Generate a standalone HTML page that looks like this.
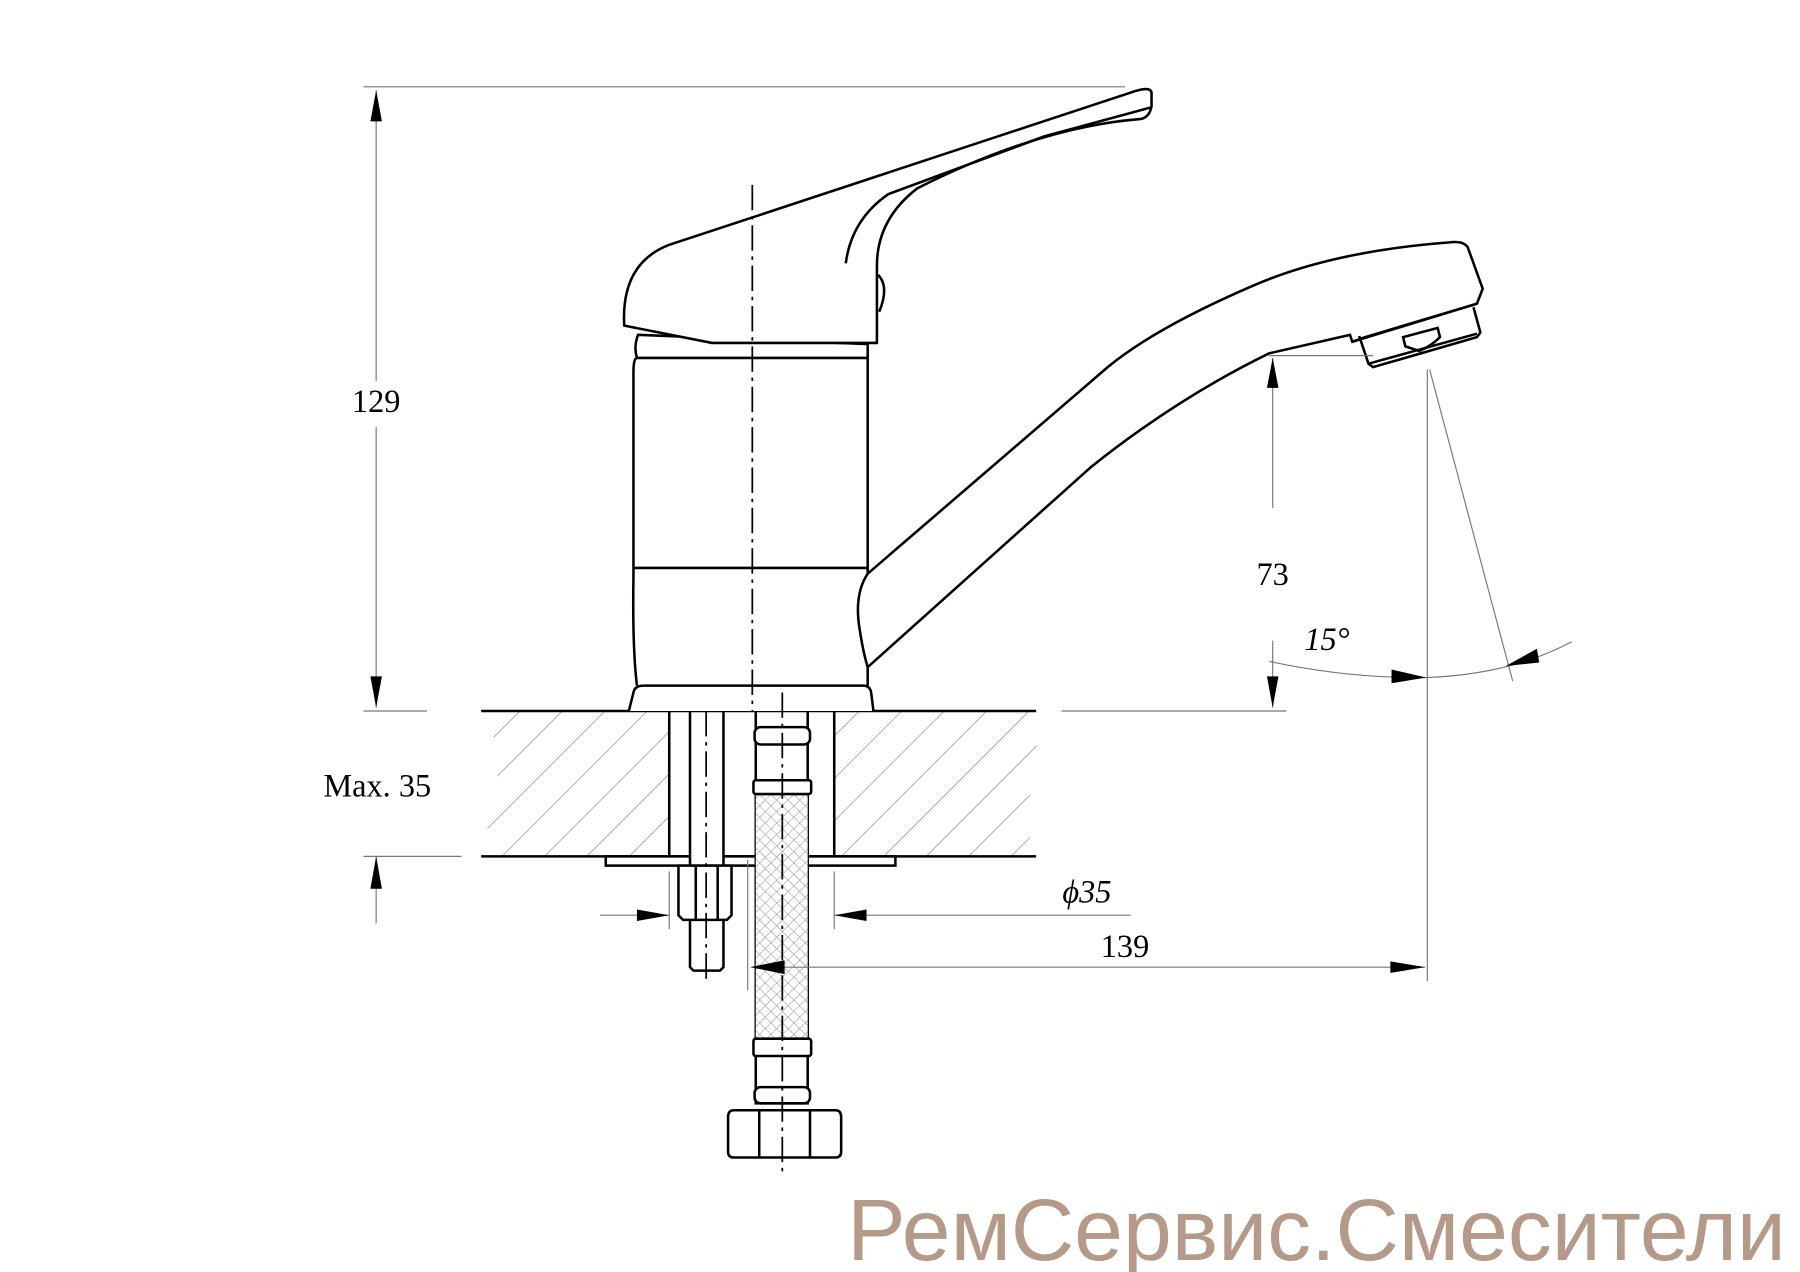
<!DOCTYPE html>
<html><head><meta charset="utf-8"><style>
html,body{margin:0;padding:0;background:#fff;}
svg{display:block;}
</style></head><body>
<svg width="1800" height="1272" viewBox="0 0 1560 1102" xmlns="http://www.w3.org/2000/svg">
<defs>
<pattern id="hatch" width="26" height="26" patternUnits="userSpaceOnUse" patternTransform="rotate(45)">
<line x1="0" y1="0" x2="0" y2="26" stroke="#777" stroke-width="1"/>
</pattern>
<pattern id="mesh" width="7" height="7" patternUnits="userSpaceOnUse" patternTransform="rotate(45)">
<rect width="7" height="7" fill="#fff"/>
<line x1="0" y1="0" x2="0" y2="7" stroke="#888" stroke-width="0.8"/>
<line x1="0" y1="0" x2="7" y2="0" stroke="#888" stroke-width="0.8"/>
</pattern>
</defs>
<g fill="none" stroke="#000" stroke-width="2.2">
<path d="M417,616 C445,660 425,700 417,742 L898,742 C880,700 905,660 898,616 Z" fill="url(#hatch)" stroke="none"/>
<rect x="580" y="617" width="143" height="124" fill="#fff" stroke="none"/>
<line x1="417" y1="616" x2="898" y2="616"/>
<line x1="417" y1="742" x2="898" y2="742"/>
<line x1="580" y1="616" x2="580" y2="742"/>
<line x1="723" y1="616" x2="723" y2="742"/>
<rect x="525" y="742" width="251" height="8" fill="#fff"/>
<rect x="598" y="616" width="29" height="134" fill="#fff"/>
<path d="M588,750 H634 V793 L630,797 H592 L588,793 Z" fill="#fff"/>
<line x1="603" y1="750" x2="603" y2="797"/><line x1="622" y1="750" x2="622" y2="797"/>
<path d="M598,797 V838 L601,841 H624 L627,838 V797"/>
<rect x="655" y="616" width="45" height="340" fill="#fff"/>
<rect x="655" y="688" width="45" height="212" fill="url(#mesh)" stroke="none"/>
<rect x="654" y="630" width="48" height="15" rx="5" fill="#fff"/>
<rect x="653" y="676" width="50" height="12" rx="2" fill="#fff"/>
<rect x="653" y="900" width="50" height="15" rx="2" fill="#fff"/>
<rect x="654" y="942" width="48" height="14" rx="5" fill="#fff"/>
<path d="M636,962 H724 Q729,962 729,968 V998 Q729,1003 724,1003 H636 Q631,1003 631,998 V968 Q631,962 636,962 Z" fill="#fff"/>
<line x1="658" y1="962" x2="658" y2="1003"/><line x1="702" y1="962" x2="702" y2="1003"/>
<path d="M545,616 L549,600 Q550,594 558,594 L748,594 Q754,594 755,600 L757,616" fill="#fff"/>
<path d="M552,594 Q548,560 549,500 L549,322 Q549,310 552,310 L752,310 Q752,330 752,500 Q752,560 752,594"/>
<line x1="550" y1="492" x2="752" y2="492"/>
<path d="M552,310 Q549,300 553,290 L752,298 L752,310"/>
<path d="M541,282 Q538,228 580,212 L980,80 Q997,74 998,80 L998,92 Q996,102 988,103 Q900,110 795,163 Q760,190 760,230 L760,297 L617,297 Z" fill="#fff"/>
<path d="M997,93 L905,118 L770,168 Q738,190 733,228"/>
<path d="M761,238 Q771,248 762,270"/>
<path d="M752,497 Q740,515 745,545 Q748,565 752,578 L945,405 Q1020,345 1100,306 L1170,290 L1172,296 L1183,292 L1280,263 L1285,250 L1272,214 Q1268,208 1255,210 Q1150,218 1080,250 Q1000,285 960,318 L752,497 Z" fill="#fff"/>
<path d="M1172,296 L1280,263"/>
<path d="M1178,291 L1186,315 L1190,318 L1280,292 L1283,288 L1277,266"/>
<path d="M1186,315 L1280,289"/>
<path d="M1218,300 L1216,292 L1246,284 L1248,292 Q1240,300 1230,304 Z"/>
</g>
<g stroke="#000" stroke-width="1.5" stroke-dasharray="22,5,3,5" fill="none">
<line x1="652" y1="160" x2="652" y2="616"/>
<line x1="612" y1="616" x2="612" y2="850"/>
<line x1="678" y1="600" x2="678" y2="1015"/>
</g>
<g stroke="#777" stroke-width="1" fill="none">
<line x1="315" y1="75" x2="975" y2="75"/>
<line x1="326" y1="78" x2="326" y2="330"/><line x1="326" y1="370" x2="326" y2="613"/>
<line x1="315" y1="616" x2="370" y2="616"/>
<line x1="315" y1="742" x2="400" y2="742"/>
<line x1="326" y1="742" x2="326" y2="800"/>
<line x1="1100" y1="308" x2="1190" y2="308"/>
<line x1="920" y1="616" x2="1115" y2="616"/>
<line x1="1103" y1="310" x2="1103" y2="440"/><line x1="1103" y1="555" x2="1103" y2="613"/>
<line x1="1237" y1="320" x2="1237" y2="850"/>
<line x1="1239" y1="320" x2="1311" y2="590"/>
<path d="M1100,573 Q1170,588 1237,587 Q1310,584 1362,556"/>
<line x1="520" y1="793" x2="580" y2="793"/><line x1="723" y1="793" x2="980" y2="793"/>
<line x1="580" y1="755" x2="580" y2="805"/><line x1="723" y1="755" x2="723" y2="805"/>
<line x1="655" y1="838" x2="1235" y2="838"/>
<line x1="648" y1="745" x2="648" y2="858"/>
</g>
<g fill="#000">
<polygon points="326,78 321,105 331,105"/>
<polygon points="326,613 321,586 331,586"/>
<polygon points="326,742 321,770 331,770"/>
<polygon points="1103,310 1098,336 1108,336"/>
<polygon points="1103,613 1098,586 1108,586"/>
<polygon points="580,793 552,788 552,798"/>
<polygon points="723,793 751,788 751,798"/>
<polygon points="650,838 680,832 680,844"/>
<polygon points="1235,838 1205,833 1205,843"/>
<polygon points="1236,587 1206,580 1206,592"/>
<polygon points="1305,577 1332,562 1334,574"/>
</g>
<g font-family="'Liberation Serif', serif" font-size="28" fill="#000" text-anchor="middle">
<text x="326" y="357">129</text>
<text x="327" y="690">Max. 35</text>
<text x="1103" y="507">73</text>
<text x="1150" y="563" font-style="italic">15°</text>
<text x="942" y="782" font-style="italic">ϕ35</text>
<text x="975" y="829">139</text>
</g>
<text x="1141" y="1092" text-anchor="middle" font-family="'Liberation Sans', 'Noto Sans CJK JP', sans-serif" font-size="76" fill="#b59a8a">РемСервис.Смесители</text>
</svg>
</body></html>
